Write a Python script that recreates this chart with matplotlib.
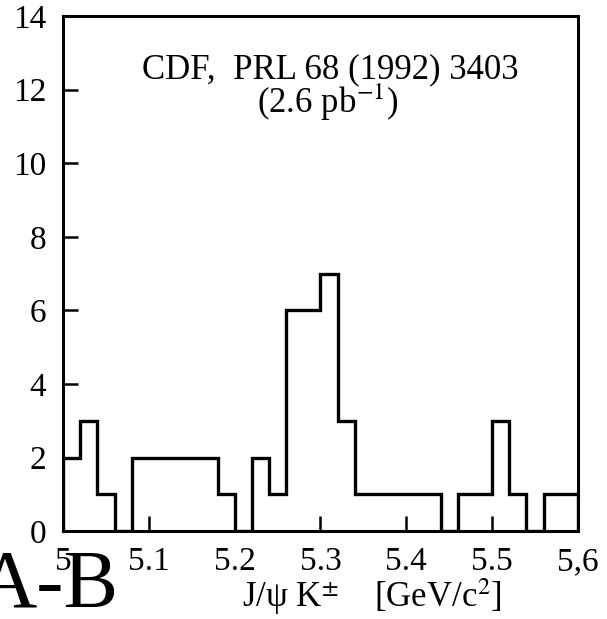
import numpy as np
import matplotlib
matplotlib.use("Agg")
import matplotlib.pyplot as plt

plt.rcParams['font.family'] = ['Liberation Serif', 'DejaVu Serif']
plt.rcParams['mathtext.fontset'] = 'stix'

# J/psi K+- invariant mass, 20 MeV bins
edges = np.round(np.arange(5.0, 5.6001, 0.02), 2)
counts = [2, 3, 1, 0, 2, 2, 2, 2, 2, 1,
          0, 2, 1, 6, 6, 7, 3, 1, 1, 1,
          1, 1, 0, 1, 1, 3, 1, 0, 1, 1]

xticks = [5.0, 5.1, 5.2, 5.3, 5.4, 5.5, 5.6]
xticklabels = ['5', '5.1', '5.2', '5.3', '5.4', '5.5', '5,6']
yticks = [0, 2, 4, 6, 8, 10, 12, 14]

fig = plt.figure(figsize=(6.07, 6.19), dpi=100)
ax = fig.add_axes([0.104, 0.142, 0.848, 0.832])

ax.stairs(counts, edges, color='black', linewidth=2.4)

ax.set_xlim(5.0, 5.6)
ax.set_ylim(0, 14)
ax.set_xticks(xticks)
ax.set_xticklabels(xticklabels)
ax.set_yticks(yticks)
ax.tick_params(direction='in', length=11, width=1.8, labelsize=24,
               top=False, right=False)
ax.tick_params(axis='y', pad=12)
ax.tick_params(axis='x', pad=11)
for s in ax.spines.values():
    s.set_linewidth(2.2)

fig.text(0.544, 0.874, 'CDF,  PRL 68 (1992) 3403', ha='center',
         va='baseline', fontsize=25)
fig.text(0.540, 0.817, r'(2.6 pb$^{-1}$)', ha='center', va='baseline',
         fontsize=25)

fig.text(0.613, 0.019, 'J/\u03c8 K$^{\\pm}$    [GeV/c$^2$]', ha='center',
         va='baseline', fontsize=25)
fig.text(-0.038, 0.021, 'A-B', ha='left', va='baseline', fontsize=59)

fig.savefig('out.png', dpi=100)
